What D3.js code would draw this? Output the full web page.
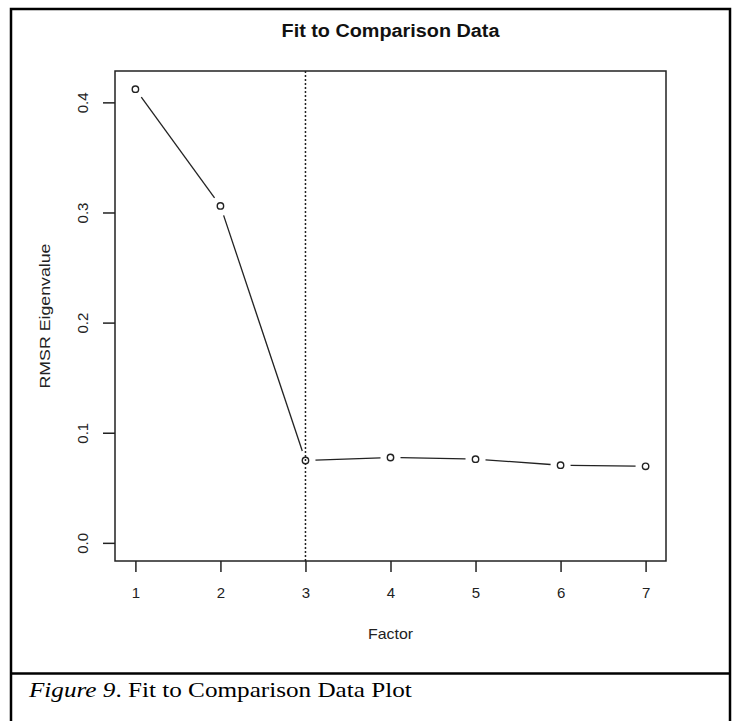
<!DOCTYPE html>
<html>
<head>
<meta charset="utf-8">
<script src="https://cdn.jsdelivr.net/npm/d3@7"></script>
<style>
  body { margin: 0; background: #fff; }
  svg { display: block; }
</style>
</head>
<body>
<svg id="chart"></svg>
<script>
// Data
var factors = [1, 2, 3, 4, 5, 6, 7];
var rmsr = [0.412, 0.306, 0.0748, 0.0775, 0.0760, 0.0705, 0.0695];
var yTicks = [0.0, 0.1, 0.2, 0.3, 0.4];
var xTicks = [1, 2, 3, 4, 5, 6, 7];
var cutoff = [3];

var width = 735,
    height = 721;

// plot box (R style)
var box = { left: 115, right: 666, top: 71, bottom: 561 };
var sans = "'Liberation Sans', Arial, sans-serif";
var ink = "#222";

var svg = d3.select("#chart")
  .attr("width", width)
  .attr("height", height);

// place a text at (tx,ty), optionally rotated, and stretch it horizontally to a target width
function placeText(sel, tx, ty, rot, target) {
  var len = sel.node().getComputedTextLength();
  var s = target / len;
  sel.attr("transform", "translate(" + tx + "," + ty + ") rotate(" + rot + ") scale(" + s + ",1)");
}

// outer frame + caption divider
svg.append("rect")
  .attr("x", 11).attr("y", 9)
  .attr("width", 719).attr("height", 740)
  .attr("fill", "none")
  .attr("stroke", "#000")
  .attr("stroke-width", 2.5);

svg.append("line")
  .attr("x1", 11).attr("x2", 730)
  .attr("y1", 673.5).attr("y2", 673.5)
  .attr("stroke", "#000")
  .attr("stroke-width", 2.5);

// scales with R's 4% padding
var xPad = (d3.max(factors) - d3.min(factors)) * 0.04;
var x = d3.scaleLinear()
  .domain([d3.min(factors) - xPad, d3.max(factors) + xPad])
  .range([box.left, box.right]);

var yMax = d3.max(rmsr);
var yPad = yMax * 0.04;
var y = d3.scaleLinear()
  .domain([0 - yPad, yMax + yPad])
  .range([box.bottom, box.top]);

// box
svg.append("rect")
  .attr("x", box.left).attr("y", box.top)
  .attr("width", box.right - box.left)
  .attr("height", box.bottom - box.top)
  .attr("fill", "none")
  .attr("stroke", ink)
  .attr("stroke-width", 1.5);

// axes
var xAxis = svg.append("g")
  .attr("transform", "translate(0," + box.bottom + ")")
  .call(d3.axisBottom(x).tickValues(xTicks).tickSize(11).tickFormat(d3.format("d")));

var yAxis = svg.append("g")
  .attr("transform", "translate(" + box.left + ",0)")
  .call(d3.axisLeft(y).tickValues(yTicks).tickSize(12).tickFormat(d3.format(".1f")));

[xAxis, yAxis].forEach(function(a) {
  a.select(".domain").remove();
  a.selectAll(".tick line").attr("stroke", ink).attr("stroke-width", 1.5);
  a.selectAll("text")
    .attr("fill", ink)
    .style("font-family", sans)
    .style("font-size", "15px");
});

xAxis.selectAll(".tick text")
  .attr("y", 37).attr("dy", null);

// rotate y tick labels like R's las=0
yAxis.selectAll(".tick text")
  .attr("x", null).attr("dy", null)
  .attr("transform", "translate(-27,0) rotate(-90)")
  .style("text-anchor", "middle");

// vertical dotted cutoff line
svg.selectAll(".cutoff")
  .data(cutoff)
  .enter().append("line")
  .attr("class", "cutoff")
  .attr("x1", function(d) { return x(d); })
  .attr("x2", function(d) { return x(d); })
  .attr("y1", box.top).attr("y2", box.bottom)
  .attr("stroke", ink)
  .attr("stroke-width", 1.5)
  .attr("stroke-dasharray", "2,2");

// type = "b": segments with gaps around points
var pts = factors.map(function(f, i) { return [x(f), y(rmsr[i])]; });
var gap = 10;
var segs = d3.pairs(pts).map(function(p) {
  var dx = p[1][0] - p[0][0], dy = p[1][1] - p[0][1];
  var len = Math.sqrt(dx * dx + dy * dy);
  var ux = dx / len, uy = dy / len;
  return [p[0][0] + ux * gap, p[0][1] + uy * gap, p[1][0] - ux * gap, p[1][1] - uy * gap];
});

svg.selectAll(".seg")
  .data(segs)
  .enter().append("line")
  .attr("class", "seg")
  .attr("x1", function(d) { return d[0]; })
  .attr("y1", function(d) { return d[1]; })
  .attr("x2", function(d) { return d[2]; })
  .attr("y2", function(d) { return d[3]; })
  .attr("stroke", ink)
  .attr("stroke-width", 1.3);

svg.selectAll(".pt")
  .data(rmsr)
  .enter().append("circle")
  .attr("class", "pt")
  .attr("cx", function(d, i) { return x(factors[i]); })
  .attr("cy", function(d) { return y(d); })
  .attr("r", 3.2)
  .attr("fill", "none")
  .attr("stroke", ink)
  .attr("stroke-width", 1.4);

// title and axis labels
var cx = (box.left + box.right) / 2;

var title = svg.append("text")
  .style("text-anchor", "middle")
  .style("font-family", sans)
  .style("font-size", "18px")
  .style("font-weight", "bold")
  .attr("fill", "#111")
  .text("Fit to Comparison Data");
placeText(title, cx, 37, 0, 218);

var xLab = svg.append("text")
  .style("text-anchor", "middle")
  .style("font-family", sans)
  .style("font-size", "15px")
  .attr("fill", ink)
  .text("Factor");
placeText(xLab, cx, 639, 0, 45);

var yLab = svg.append("text")
  .style("text-anchor", "middle")
  .style("font-family", sans)
  .style("font-size", "15px")
  .attr("fill", ink)
  .text("RMSR Eigenvalue");
placeText(yLab, 50, (box.top + box.bottom) / 2, -90, 145);

// caption
var cap = svg.append("text")
  .style("font-family", "'Liberation Serif', 'Times New Roman', serif")
  .style("font-size", "22px")
  .attr("fill", "#000");
cap.append("tspan").style("font-style", "italic").text("Figure 9");
cap.append("tspan").text(". Fit to Comparison Data Plot");
placeText(cap, 29, 697, 0, 383);
</script>
</body>
</html>
